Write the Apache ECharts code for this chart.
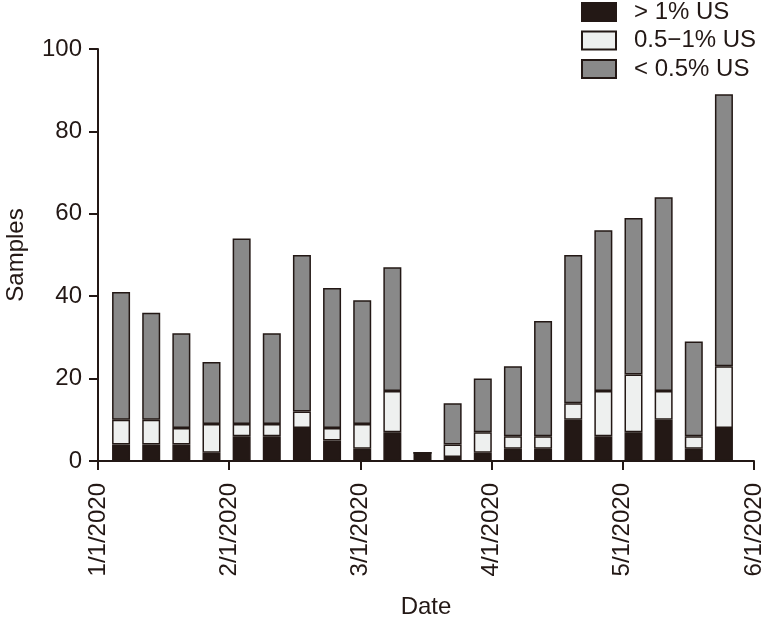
<!DOCTYPE html>
<html>
<head>
<meta charset="utf-8">
<script src="https://cdn.jsdelivr.net/npm/echarts@6/dist/echarts.min.js"></script>
<style>
html,body{margin:0;padding:0;background:#fff;}
#chart{width:762px;height:618px;}
</style>
</head>
<body>
<div id="chart"></div>
<script>
// Weekly sample bins (category for each bar)
var weeks = ['1/6/2020','1/13/2020','1/20/2020','1/27/2020','2/3/2020','2/10/2020','2/17/2020',
  '2/24/2020','3/2/2020','3/9/2020','3/16/2020','3/23/2020','3/30/2020','4/6/2020',
  '4/13/2020','4/20/2020','4/27/2020','5/4/2020','5/11/2020','5/18/2020','5/25/2020'];
var seriesNames = ['> 1% US', '0.5\u22121% US', '< 0.5% US'];
var above1 = [4,4,4,2,6,6,8,5,3,7,2,1,2,3,3,10,6,7,10,3,8];
var mid = [6,6,4,7,3,3,4,3,6,10,0,3,5,3,3,4,11,14,7,3,15];
var below05 = [31,26,23,15,45,22,38,34,30,30,0,10,13,17,28,36,39,38,47,23,66];
var monthTicks = ['1/1/2020','2/1/2020','3/1/2020','4/1/2020','5/1/2020','6/1/2020'];
var yTicks = [0,20,40,60,80,100];

var ink = '#231815';
var colors = ['#231815', '#eef0ef', '#898989'];
var font = 'Liberation Sans, Arial, Helvetica, sans-serif';

var chart = echarts.init(document.getElementById('chart'), null, {renderer: 'canvas'});

function barSeries(name, data, color) {
  return {
    name: name, type: 'bar', stack: 'total', xAxisIndex: 0, yAxisIndex: 1,
    data: data, barWidth: 18,
    itemStyle: {color: color, borderColor: ink, borderWidth: 1.5},
    emphasis: {disabled: true}, animation: false
  };
}

chart.setOption({
  animation: false,
  textStyle: {fontFamily: font},
  legend: {
    orient: 'vertical', left: 581, top: 0, padding: 0,
    icon: 'rect',
    itemWidth: 34, itemHeight: 18, itemGap: 4.5,
    textStyle: {fontSize: 24, color: ink, fontFamily: font, padding: [0,0,0,13]},
    data: seriesNames
  },
  grid: [
    {left: 106, right: 23, top: 49, bottom: 157, containLabel: false, outerBoundsMode: 'none'},
    {left: 98, right: 8, top: 49, bottom: 157, containLabel: false, outerBoundsMode: 'none'}
  ],
  xAxis: [
    {type: 'category', gridIndex: 0, data: weeks, show: false, boundaryGap: true},
    {type: 'value', gridIndex: 1, min: 0, max: monthTicks.length - 1, interval: 1,
     name: 'Date', nameLocation: 'middle', nameGap: 134,
     nameTextStyle: {fontSize: 24, color: ink, fontFamily: font},
     axisLine: {show: true, lineStyle: {color: ink, width: 2}},
     axisTick: {show: true, length: 9, lineStyle: {color: ink, width: 2}},
     splitLine: {show: false},
     axisLabel: {rotate: 90, margin: 22, fontSize: 24, color: ink, fontFamily: font,
       formatter: function (v) { return monthTicks[Math.round(v)] || ''; }}
    }
  ],
  yAxis: [
    {type: 'value', gridIndex: 1, min: yTicks[0], max: yTicks[yTicks.length - 1], interval: 20,
     name: 'Samples', nameLocation: 'middle', nameGap: 70, nameRotate: 90,
     nameTextStyle: {fontSize: 24, color: ink, fontFamily: font},
     axisLine: {show: true, lineStyle: {color: ink, width: 2}},
     axisTick: {show: true, length: 9, lineStyle: {color: ink, width: 2}},
     splitLine: {show: false},
     axisLabel: {margin: 16, fontSize: 24, color: ink, fontFamily: font}
    },
    {type: 'value', gridIndex: 0, min: yTicks[0], max: yTicks[yTicks.length - 1], show: false,
     splitLine: {show: false}}
  ],
  series: [
    barSeries(seriesNames[0], above1, colors[0]),
    barSeries(seriesNames[1], mid, colors[1]),
    barSeries(seriesNames[2], below05, colors[2])
  ]
});
</script>
</body>
</html>
